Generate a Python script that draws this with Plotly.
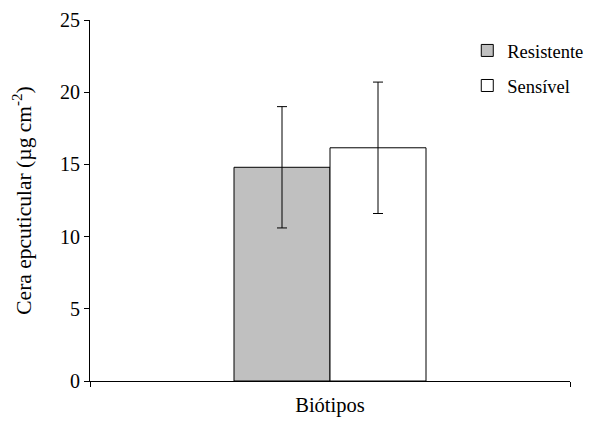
import plotly.graph_objects as go

categories = ["Biótipos"]
series_names = ["Resistente", "Sensível"]
means = [14.8, 16.15]
errors = [4.2, 4.55]
fill_colors = ["#c0c0c0", "#ffffff"]

fig = go.Figure()
for name, m, e, c in zip(series_names, means, errors, fill_colors):
    fig.add_trace(go.Bar(
        x=categories, y=[m], name=name, legendgroup=name,
        marker=dict(color=c, line=dict(color="black", width=1)),
        error_y=dict(type="data", array=[e], visible=True, color="black", thickness=1, width=5),
    ))

fam = "Liberation Serif"
font = dict(family=fam, size=20, color="black")
fig.update_layout(
    width=586, height=418,
    margin=dict(l=82, r=24, t=12, b=45, autoexpand=False),
    paper_bgcolor="white", plot_bgcolor="white",
    font=font,
    barmode="group", bargap=0.6, bargroupgap=0,
    showlegend=True,
    legend=dict(x=0.786, xanchor="left", y=0.967, yanchor="top", traceorder="grouped",
                tracegroupgap=8, font=dict(family=fam, size=18.5, color="black"),
                bgcolor="rgba(0,0,0,0)", itemwidth=30),
    xaxis=dict(type="category", showline=True, linecolor="black", linewidth=1,
               ticks="outside", tickson="boundaries", ticklen=5, tickcolor="black",
               showticklabels=False, automargin=False,
               title=dict(text="Biótipos", standoff=16, font=dict(family=fam, size=20.5, color="black"))),
    yaxis=dict(range=[0, 25], tickvals=[0, 5, 10, 15, 20, 25], showline=True,
               linecolor="black", linewidth=1, ticks="outside", ticklen=5, tickcolor="black",
               showgrid=False, zeroline=False, automargin=False,
               title=dict(text="Cera epcuticular (µg cm<sup>-2</sup>)", standoff=22,
                          font=dict(family=fam, size=21.5, color="black"))),
)
fig.write_html("out.html")
